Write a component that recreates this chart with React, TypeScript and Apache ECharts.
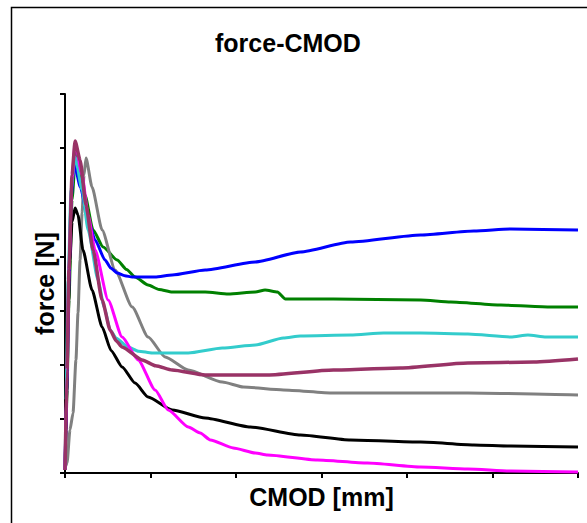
import React, { useEffect, useRef } from "react";
import * as echarts from "echarts";

// CMOD [mm], force [N]
const blue: number[][] = [
  [0, 28], [0.012, 859], [0.023, 1782], [0.035, 2521], [0.053, 2863], [0.09, 2640], [0.135, 2336], [0.176, 2152],
  [0.234, 1967], [0.27, 1890], [0.305, 1847], [0.35, 1822], [0.393, 1810], [0.527, 1810], [0.627, 1829], [0.82, 1875], [1.113, 1949],
  [1.377, 2041], [1.67, 2133], [2.08, 2198], [2.391, 2235], [2.608, 2253], [3.0, 2244],
];
const green: number[][] = [
  [0, 28], [0.012, 767], [0.023, 1598], [0.041, 2521], [0.064, 2983], [0.09, 2780], [0.117, 2567], [0.164, 2244],
  [0.223, 2087], [0.305, 1967], [0.36, 1880], [0.41, 1810], [0.486, 1736], [0.55, 1695], [0.627, 1672], [0.82, 1672], [0.955, 1653],
  [1.113, 1672], [1.17, 1690], [1.242, 1672], [1.289, 1607], [1.57, 1607], [2.08, 1598], [2.256, 1579],
  [2.549, 1551], [2.842, 1533], [3.0, 1533],
];
const cyan: number[][] = [
  [0, 28], [0.006, 674], [0.018, 1782], [0.035, 2613], [0.059, 2918], [0.1, 2613], [0.135, 2244],
  [0.193, 1782], [0.23, 1530], [0.264, 1321], [0.3, 1245], [0.369, 1164], [0.43, 1125], [0.51, 1108], [0.721, 1108], [0.92, 1154],
  [1.113, 1182], [1.277, 1247], [1.377, 1265], [1.67, 1274], [1.863, 1293], [2.08, 1293], [2.356, 1284],
  [2.608, 1256], [2.707, 1274], [2.813, 1256], [3.0, 1256],
];
const maroon: number[][] = [
  [0, 28], [0.012, 951], [0.023, 1875], [0.041, 2752], [0.059, 3066], [0.088, 2891], [0.123, 2475],
  [0.164, 2059], [0.217, 1598], [0.264, 1321], [0.3, 1220], [0.334, 1164], [0.451, 1044], [0.53, 990], [0.627, 951], [0.82, 905],
  [1.113, 905], [1.184, 905], [1.57, 951], [1.963, 970], [2.356, 1016], [2.742, 1025], [3.0, 1053],
];
const magenta: number[][] = [
  [0, 28], [0.012, 951], [0.023, 1875], [0.041, 2706], [0.059, 3048], [0.1, 2752], [0.135, 2383],
  [0.176, 2059], [0.252, 1598], [0.334, 1256], [0.428, 1044], [0.527, 767], [0.604, 582], [0.721, 425],
  [0.791, 369], [0.85, 305], [0.984, 231], [1.113, 185], [1.184, 166], [1.476, 120], [1.769, 92],
  [2.08, 55], [2.356, 37], [2.608, 18], [3.0, 9],
];
const gray: number[][] = [
  [0, 46], [0.012, 92], [0.029, 397], [0.047, 554], [0.064, 1044], [0.076, 1478], [0.088, 1967],
  [0.1, 2401], [0.111, 2752], [0.123, 2909], [0.158, 2641], [0.217, 2244], [0.293, 1875], [0.393, 1533],
  [0.486, 1256], [0.586, 1071], [0.721, 951], [0.92, 840], [1.043, 794], [1.277, 767], [1.57, 739],
  [1.963, 739], [2.356, 739], [2.742, 730], [3.0, 720],
];
const black: number[][] = [
  [0, 28], [0.006, 397], [0.018, 1413], [0.029, 1967], [0.041, 2318], [0.059, 2447], [0.076, 2383],
  [0.105, 2059], [0.158, 1690], [0.217, 1348], [0.27, 1130], [0.334, 979], [0.41, 830], [0.486, 702], [0.627, 582], [0.82, 508],
  [1.084, 425], [1.377, 351], [1.67, 305], [2.08, 286], [2.391, 259], [2.608, 249], [3.0, 240],
];

const seriesList: { name: string; data: number[][]; color: string; width: number }[] = [
  { name: "green", data: green, color: "#008000", width: 3 },
  { name: "gray", data: gray, color: "#808080", width: 3 },
  { name: "black", data: black, color: "#000000", width: 3 },
  { name: "blue", data: blue, color: "#0000FF", width: 3 },
  { name: "cyan", data: cyan, color: "#33CCCC", width: 3 },
  { name: "magenta", data: magenta, color: "#FF00FF", width: 3 },
  { name: "maroon", data: maroon, color: "#993366", width: 3.5 },
];

export default function App() {
  const ref = useRef<HTMLDivElement>(null);
  useEffect(() => {
    if (!ref.current) return;
    const chart = echarts.init(ref.current, null, { renderer: "svg" });
    const font = "Liberation Sans, Arial, sans-serif";
    chart.setOption({
      animation: false,
      backgroundColor: "#ffffff",
      title: {
        text: "force-CMOD",
        left: 215,
        top: 30,
        padding: 0,
        textStyle: { fontFamily: font, fontWeight: "bold", fontSize: 25, color: "#000" },
      },
      graphic: [
        {
          type: "rect",
          shape: { x: 11.5, y: 7.5, width: 700, height: 700 },
          style: { fill: "none", stroke: "#000", lineWidth: 1.5 },
          silent: true,
          z: -10,
        },
      ],
      grid: { left: 65, top: 94, right: 9, bottom: 50, containLabel: false },
      xAxis: {
        type: "value",
        min: 0,
        max: 3,
        interval: 0.5,
        name: "CMOD [mm]",
        nameLocation: "middle",
        nameGap: 11,
        nameTextStyle: { fontFamily: font, fontWeight: "bold", fontSize: 25, color: "#000" },
        axisLine: { show: true, onZero: false, lineStyle: { color: "#000", width: 2 } },
        axisTick: { show: true, inside: false, length: 5, lineStyle: { color: "#000", width: 2 } },
        axisLabel: { show: false },
        splitLine: { show: false },
      },
      yAxis: {
        type: "value",
        min: 0,
        max: 3500,
        interval: 500,
        name: "force [N]",
        nameLocation: "middle",
        nameGap: 8,
        nameTextStyle: { fontFamily: font, fontWeight: "bold", fontSize: 25, color: "#000" },
        axisLine: { show: true, onZero: false, lineStyle: { color: "#000", width: 2 } },
        axisTick: { show: true, inside: false, length: 5, lineStyle: { color: "#000", width: 2 } },
        axisLabel: { show: false },
        splitLine: { show: false },
      },
      series: seriesList.map((s, i) => ({
        name: s.name,
        type: "line",
        data: s.data,
        showSymbol: false,
        symbol: "none",
        smooth: 0.2,
        smoothMonotone: "x",
        z: 2 + i,
        lineStyle: { color: s.color, width: s.width, join: "round" },
        itemStyle: { color: s.color },
      })),
    });
    return () => chart.dispose();
  }, []);
  return <div ref={ref} style={{ width: 587, height: 523, position: "absolute", left: 0, top: 0 }} />;
}
